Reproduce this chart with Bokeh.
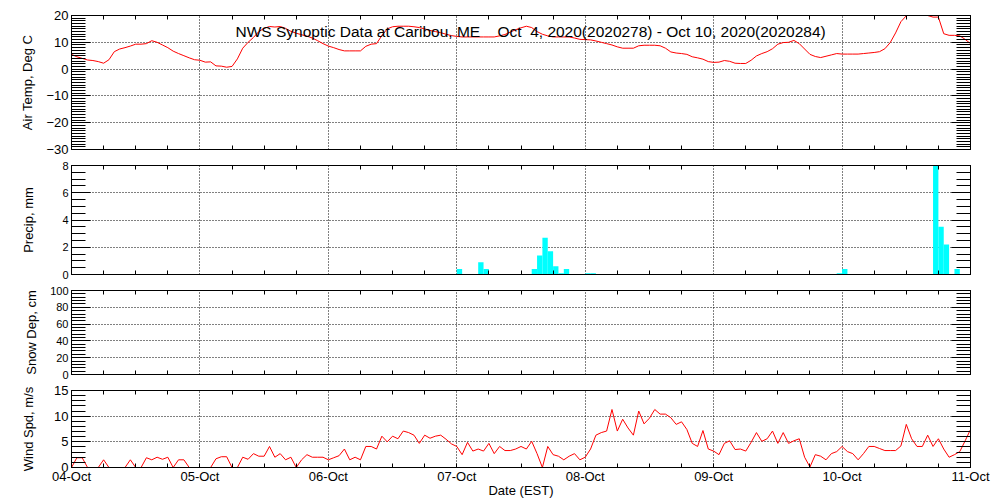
from bokeh.plotting import figure
from bokeh.models import Range1d, SingleIntervalTicker, FixedTicker, LinearAxis, Label, Grid
from bokeh.layouts import column
from bokeh.embed import file_html
from bokeh.resources import INLINE

FONT = "Liberation Sans"
NB = "\u00a0"

title_text = ("NWS Synoptic Data at Caribou, ME" + NB * 4 + "Oct" + NB * 2 +
              "4, 2020(2020278) - Oct 10, 2020(2020284)")
day_labels = ["04-Oct", "05-Oct", "06-Oct", "07-Oct", "08-Oct", "09-Oct", "10-Oct", "11-Oct"]
x_title = "Date (EST)"

# hours since 2020-10-04 00:00 EST
temp_hours = list(range(169))
temp_vals = [
    5.5, 4.6, 4.0, 3.4, 3.2, 2.8, 2.2, 3.5, 6.5, 7.5, 8.0, 8.6, 9.3, 9.3, 9.5, 10.6, 10.0, 9.0, 8.0, 6.7,
    5.8, 5.0, 4.2, 3.5, 3.3, 2.6, 2.7, 1.2, 1.1, 0.7, 1.0, 3.8, 7.8, 10.0, 11.8, 14.0, 15.2, 15.9, 15.7, 15.9,
    15.2, 14.1, 13.4, 12.8, 12.3, 11.6, 10.6, 9.5, 8.6, 8.0, 7.3, 6.8, 6.8, 6.8, 6.8, 8.5, 9.3, 9.5, 12.5, 15.0,
    15.8, 16.0, 16.0, 16.0, 15.8, 15.5, 15.0, 14.4, 14.0, 13.6, 13.0, 12.5, 12.2, 12.0, 12.0, 12.0, 12.0, 12.0, 12.0, 12.0,
    12.4, 12.9, 13.8, 14.7, 15.4, 16.0, 15.5, 14.0, 13.0, 12.4, 12.0, 12.0, 12.0, 12.0, 11.6, 11.1, 11.0, 10.9, 10.5, 10.0,
    9.5, 9.0, 8.3, 7.8, 7.8, 7.8, 8.7, 8.9, 8.9, 8.9, 8.7, 7.8, 6.4, 6.0, 5.8, 5.5, 4.6, 4.2, 3.7, 2.8,
    2.5, 2.6, 3.2, 2.9, 2.2, 2.1, 2.1, 3.3, 4.9, 5.8, 6.5, 7.6, 9.3, 9.9, 10.0, 10.7, 9.5, 7.5, 5.5, 4.7,
    4.3, 4.8, 5.3, 5.8, 5.6, 5.6, 5.6, 5.6, 5.8, 6.0, 6.2, 6.5, 7.6, 9.9, 13.5, 17.7, 19.9, 21.0, 21.0, 21.0,
    20.0, 19.4, 19.4, 13.2, 12.6, 12.6, 12.4, 11.1, 9.5,
]

precip_hours = [72, 76, 77, 86, 87, 88, 89, 90, 91, 92, 96, 97, 143, 144, 161, 162, 163, 165]
precip_vals = [0.4, 0.9, 0.4, 0.4, 1.4, 2.7, 1.7, 0.6, 0.1, 0.4, 0.1, 0.1, 0.1, 0.4, 8.6, 3.5, 2.2, 0.4]

snow_hours = []
snow_vals = []

wind_hours = list(range(169))
wind_vals = [
    0.0, 1.9, 1.9, 0.0, 0.0, 0.0, 1.5, 0.0, 0.0, 0.0, 0.0, 1.5, 0.0, 0.0, 1.9, 1.5, 2.0, 1.6, 2.0, 0.0,
    1.5, 1.5, 0.0, 0.0, 0.0, 0.0, 0.0, 1.7, 2.1, 2.1, 0.0, 0.0, 2.0, 1.6, 2.7, 2.2, 2.2, 4.1, 2.0, 2.7,
    1.5, 2.0, 0.0, 1.5, 2.5, 2.0, 2.0, 2.0, 1.5, 1.9, 2.3, 3.6, 1.5, 2.0, 1.5, 4.1, 4.1, 3.6, 6.1, 5.0,
    6.1, 5.6, 7.1, 6.8, 6.3, 4.7, 6.3, 5.7, 6.1, 6.3, 5.5, 4.6, 4.1, 2.5, 4.9, 3.2, 3.6, 3.2, 4.7, 2.7,
    4.1, 3.3, 3.3, 3.6, 4.1, 3.6, 5.1, 2.7, 0.0, 4.1, 2.5, 2.2, 1.5, 2.2, 2.7, 1.5, 2.0, 3.6, 6.3, 6.8,
    7.1, 11.3, 7.1, 9.4, 7.7, 6.3, 11.0, 8.5, 9.6, 11.3, 10.4, 10.4, 9.7, 8.4, 8.9, 7.4, 4.7, 4.1, 7.2, 3.6,
    3.2, 2.5, 4.7, 5.2, 3.5, 3.6, 3.2, 4.9, 6.8, 5.1, 5.6, 7.1, 4.7, 6.8, 4.7, 5.2, 5.6, 2.0, 0.1, 2.5,
    2.2, 1.5, 2.7, 3.1, 4.1, 3.1, 2.7, 1.5, 2.7, 4.1, 4.1, 3.7, 3.3, 3.3, 3.3, 4.2, 8.4, 5.6, 4.1, 4.1,
    6.3, 4.1, 5.6, 3.6, 2.0, 2.5, 3.1, 5.2, 7.4,
]

W = 1000
LEFT = 71
RIGHT = 30

X_MINORS = [h for h in range(0, 169, 6) if h % 24]


def bare_axis(ticker, tick_in):
    ax = LinearAxis(ticker=ticker)
    ax.axis_line_color = "black"
    ax.major_tick_in = 0
    ax.major_tick_out = 0
    ax.minor_tick_in = tick_in
    ax.minor_tick_out = 0
    ax.minor_tick_line_color = "black"
    ax.major_label_standoff = 0
    return ax


def make_panel(height, top, bottom, ylo, yhi, yint, nminor, ylabel, tick_size, ylabel_standoff,
               show_dates=False):
    p = figure(width=W, height=height, x_range=Range1d(0, 168), y_range=Range1d(ylo, yhi),
               output_backend="svg", toolbar_location=None,
               x_axis_type=None, y_axis_type=None,
               min_border_left=LEFT, min_border_right=RIGHT,
               min_border_top=top, min_border_bottom=bottom,
               background_fill_color="white", border_fill_color="white",
               outline_line_color="black", outline_line_width=1)

    xt = SingleIntervalTicker(interval=24, num_minor_ticks=4)
    yt = SingleIntervalTicker(interval=yint, num_minor_ticks=nminor)
    y_majors = [v for v in range(int(ylo), int(yhi) + 1, int(yint))]
    step = yint / nminor
    y_minors = [ylo + k * step for k in range(int(round((yhi - ylo) / step)) + 1)]
    y_minors = [v for v in y_minors if all(abs(v - m) > 1e-9 for m in y_majors)]

    p.add_layout(Grid(dimension=0, ticker=xt, grid_line_color="black", grid_line_dash="1 2",
                      grid_line_width=1), "center")
    p.add_layout(Grid(dimension=1, ticker=yt, grid_line_color="black", grid_line_dash="1 2",
                      grid_line_width=1), "center")

    # top axis: minor ticks only
    p.add_layout(bare_axis(FixedTicker(ticks=[], minor_ticks=X_MINORS), 4), "above")

    # bottom axis
    if show_dates:
        ax = LinearAxis(ticker=xt)
        ax.axis_line_color = "black"
        ax.major_tick_in = 0
        ax.major_tick_out = 0
        ax.minor_tick_in = 4
        ax.minor_tick_out = 0
        ax.minor_tick_line_color = "black"
        ax.major_label_overrides = {i * 24: lab for i, lab in enumerate(day_labels)}
        ax.major_label_text_font = FONT
        ax.major_label_text_font_size = "13px"
        ax.major_label_text_color = "black"
        ax.major_label_standoff = 1
        ax.axis_label = x_title
        ax.axis_label_text_font = FONT
        ax.axis_label_text_font_size = "13px"
        ax.axis_label_text_font_style = "normal"
        ax.axis_label_text_color = "black"
        ax.axis_label_standoff = -4
        p.add_layout(ax, "below")
    else:
        p.add_layout(bare_axis(FixedTicker(ticks=[], minor_ticks=X_MINORS), 4), "below")

    # left axis with labels
    ax = LinearAxis(ticker=yt)
    ax.axis_line_color = "black"
    ax.major_tick_in = 19
    ax.major_tick_out = 0
    ax.minor_tick_in = 14
    ax.minor_tick_out = 0
    ax.major_tick_line_color = "black"
    ax.minor_tick_line_color = "black"
    ax.major_label_text_font = FONT
    ax.major_label_text_font_size = tick_size
    ax.major_label_text_color = "black"
    ax.major_label_standoff = 3
    ax.major_label_overrides = {v: "\u2212" + str(-v) for v in y_majors if v < 0}
    ax.axis_label = ylabel
    ax.axis_label_text_font = FONT
    ax.axis_label_text_font_size = "13px"
    ax.axis_label_text_font_style = "normal"
    ax.axis_label_text_color = "black"
    ax.axis_label_standoff = ylabel_standoff
    p.add_layout(ax, "left")

    # right side: long major ticks and minor ticks, no labels
    p.add_layout(bare_axis(FixedTicker(ticks=[], minor_ticks=y_minors), 14), "right")
    p.add_layout(bare_axis(FixedTicker(ticks=[], minor_ticks=y_majors), 19), "right")
    return p


p1 = make_panel(157, 15, 8, -30, 20, 10, 10, "Air Temp, Deg C", "13px", 8)
p1.line(temp_hours, temp_vals, line_color="#ff0000", line_width=1)
p1.add_layout(Label(x=85.8, y=14.2, text=title_text, text_align="center", text_baseline="middle",
                    text_font=FONT, text_font_size="15.5px", text_color="black"))

p2 = make_panel(125, 8, 8, 0, 8, 2, 4, "Precip, mm", "11px", 23)
p2.quad(left=precip_hours, right=[h + 1 for h in precip_hours], bottom=0, top=precip_vals,
        fill_color="#00ffff", line_color=None)

p3 = make_panel(100, 8, 8, 0, 100, 20, 5, "Snow Dep, cm", "11px", 8)
if snow_hours:
    p3.line(snow_hours, snow_vals, line_color="#ff0000")

p4 = make_panel(118, 8, 31, 0, 15, 5, 5, "Wind Spd, m/s", "13px", 15, show_dates=True)
p4.line(wind_hours, wind_vals, line_color="#ff0000", line_width=1)

layout = column(p1, p2, p3, p4, spacing=0)
open("out.html", "w").write(file_html(layout, INLINE))
